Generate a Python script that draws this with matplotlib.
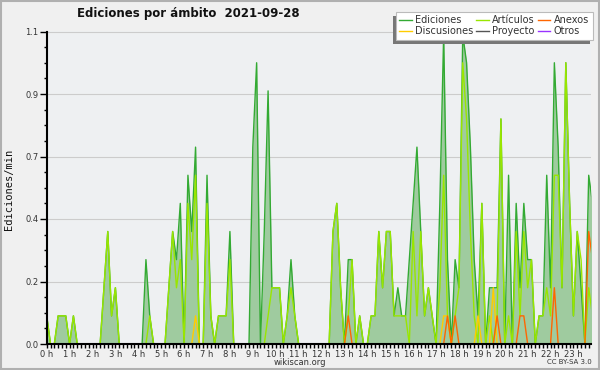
import matplotlib
matplotlib.use('Agg')
import matplotlib.pyplot as plt
from matplotlib.lines import Line2D
from matplotlib.patches import Rectangle
import numpy as np

# ---- data (edits per minute, 10-minute bins) ----
hour_labels = [f"{h} h" for h in range(24)]
series_names = ['Ediciones', 'Discusiones', 'Artículos', 'Proyecto', 'Anexos', 'Otros']

ediciones = [0.1, 0, 0, 0.1, 0.1, 0.1, 0, 0.1, 0, 0, 0, 0, 0, 0, 0, 0.2, 0.4, 0.1, 0.2, 0,
             0, 0, 0, 0, 0, 0, 0.3, 0.1, 0, 0, 0, 0, 0.2, 0.4, 0.3, 0.5, 0, 0.6, 0.4, 0.7,
             0, 0, 0.6, 0.1, 0, 0.1, 0.1, 0.1, 0.4, 0, 0, 0, 0, 0, 0.7, 1.0, 0, 0.4, 0.9, 0.2,
             0.2, 0.2, 0, 0.1, 0.3, 0.1, 0, 0, 0, 0, 0, 0, 0, 0, 0, 0.4, 0.5, 0.2, 0, 0.3,
             0.3, 0, 0.1, 0, 0, 0.1, 0.1, 0.4, 0.2, 0.4, 0.4, 0.1, 0.2, 0.1, 0.1, 0.3, 0.5, 0.7, 0.4, 0.1,
             0.2, 0.1, 0, 0.5, 1.1, 0.3, 0, 0.3, 0.2, 1.1, 1.0, 0.7, 0.3, 0.1, 0.5, 0, 0.2, 0.2, 0.2, 0.8,
             0, 0.6, 0, 0.5, 0.2, 0.5, 0.3, 0.3, 0, 0.1, 0.1, 0.6, 0.2, 1.0, 0.7, 0.2, 1.0, 0.5, 0.1, 0.4,
             0.2, 0, 0.6, 0.5]

articulos = [0.1, 0, 0, 0.1, 0.1, 0.1, 0, 0.1, 0, 0, 0, 0, 0, 0, 0, 0.2, 0.4, 0.1, 0.2, 0,
             0, 0, 0, 0, 0, 0, 0, 0.1, 0, 0, 0, 0, 0.2, 0.4, 0.2, 0.3, 0, 0.5, 0.3, 0.6,
             0, 0, 0.5, 0.1, 0, 0.1, 0.1, 0.1, 0.3, 0, 0, 0, 0, 0, 0, 0, 0, 0, 0.1, 0.2,
             0.2, 0.2, 0, 0.1, 0.2, 0.1, 0, 0, 0, 0, 0, 0, 0, 0, 0, 0.4, 0.5, 0.2, 0, 0.1,
             0.3, 0, 0.1, 0, 0, 0.1, 0.1, 0.4, 0.2, 0.4, 0.4, 0.1, 0.1, 0.1, 0.1, 0, 0.4, 0.1, 0.4, 0.1,
             0.2, 0.1, 0, 0.2, 0.6, 0.1, 0, 0.1, 0.2, 1.0, 0.8, 0.4, 0.1, 0, 0.5, 0, 0.1, 0, 0.1, 0.8,
             0, 0.1, 0, 0.4, 0.1, 0.4, 0.2, 0.3, 0, 0.1, 0.1, 0.2, 0.1, 0.6, 0.6, 0.2, 1.0, 0.5, 0.1, 0.4,
             0.3, 0, 0.2, 0.1]

# sparse series: {bin index: value}
discusiones_pts = {39: 0.1, 104: 0.1, 105: 0.1, 113: 0.1, 117: 0.2}
anexos_pts = {79: 0.1, 105: 0.1, 107: 0.1, 118: 0.1, 124: 0.1, 125: 0.1, 133: 0.2, 142: 0.4, 143: 0.3}

n = len(ediciones)
discusiones = np.zeros(n)
for k, v in discusiones_pts.items():
    discusiones[k] = v
anexos = np.zeros(n)
for k, v in anexos_pts.items():
    anexos[k] = v

t = np.arange(n) / 6.0

# ---- styling ----
C_ED = '#33aa33'
C_FILL = '#9fcb9f'
C_ART = '#99e600'
C_DIS = '#ffcc00'
C_ANX = '#ff6600'
C_PRO = '#555555'
C_OTR = '#9933ff'

W, H = 600, 370
fig = plt.figure(figsize=(W / 100, H / 100), dpi=100, facecolor='#f0f0f0')
x0, x1, ytop, ybot = 46.7, 591, 31.5, 344
ax = fig.add_axes([x0 / W, (H - ybot) / H, (x1 - x0) / W, (ybot - ytop) / H])
ax.set_facecolor('#eef0f2')

ax.fill_between(t, 0, ediciones, color=C_FILL, lw=0, zorder=2)
ax.plot(t, ediciones, color=C_ED, lw=1.0, zorder=3)
ax.plot(t, articulos, color=C_ART, lw=1.0, zorder=4)
ax.plot(t, discusiones, color=C_DIS, lw=1.0, zorder=5)
ax.plot(t, anexos, color=C_ANX, lw=1.0, zorder=6)

ax.set_xlim(0, 142.6 / 6)
ax.set_ylim(0, 10 / 9)
ax.set_xticks(range(24))
ax.set_xticklabels(hour_labels)
ax.set_xticks([i / 6 for i in range(143)], minor=True)
yt = [k * 2 / 9 for k in range(6)]
ax.set_yticks(yt)
ax.set_yticklabels([f"{v:.1f}" for v in yt])
ax.set_yticks([k / 18 for k in range(21)], minor=True)

ax.tick_params(axis='y', which='major', length=5, width=1, labelsize=6, pad=1, labelcolor='#333333')
ax.tick_params(axis='y', which='minor', length=2.5, width=1)
ax.tick_params(axis='x', which='both', length=3, width=1, labelsize=6, pad=1, labelcolor='#333333')

ax.grid(axis='y', which='major', color='#cccccc', lw=0.8)
ax.set_axisbelow(True)
for s in ['top', 'right']:
    ax.spines[s].set_visible(False)
for s in ['left', 'bottom']:
    ax.spines[s].set_linewidth(1.5)
    ax.spines[s].set_zorder(10)

fig.text(188 / W, 1 - 13.5 / H, 'Ediciones por ámbito  2021-09-28', ha='center', va='center',
         fontsize=8.5, fontweight='bold', color='#111111')
fig.text(9 / W, 1 - 189 / H, 'Ediciones/min', rotation=90, family='DejaVu Sans Mono',
         fontsize=7.5, ha='center', va='center', color='#111111')
fig.text(300 / W, 1 - 362.5 / H, 'wikiscan.org', fontsize=6, ha='center', va='center', color='#333333')
fig.text(569 / W, 1 - 362.5 / H, 'CC BY-SA 3.0', fontsize=5, ha='center', va='center', color='#333333')

fig.patches.append(Rectangle((0.5 / W, 1.5 / H), (W - 2) / W, (H - 2) / H, transform=fig.transFigure,
                             fill=False, edgecolor='#b0b0b0', lw=1.5))

colors = [C_ED, C_DIS, C_ART, C_PRO, C_ANX, C_OTR]
handles = [Line2D([], [], color=c, lw=1.0) for c in colors]
leg = fig.legend(handles, series_names, ncol=3, loc='upper right',
                 bbox_to_anchor=(592.5 / W, 1 - 12 / H), fontsize=7, frameon=True,
                 fancybox=False, edgecolor='#bbbbbb', facecolor='white', framealpha=1,
                 borderpad=0.35, labelspacing=0.1, handlelength=1.3, handletextpad=0.35,
                 columnspacing=0.3, borderaxespad=0)
leg.get_frame().set_linewidth(0.8)
for txt in leg.get_texts():
    txt.set_color('#333333')
leg.set_zorder(20)

fig.canvas.draw()
bb = leg.get_window_extent()
shadow = Rectangle((bb.x0 - 3, bb.y0 - 4), bb.width, bb.height, transform=None,
                   facecolor='#777777', edgecolor='none', zorder=19)
fig.patches.append(shadow)

fig.savefig('out.png', dpi=100, facecolor=fig.get_facecolor())
